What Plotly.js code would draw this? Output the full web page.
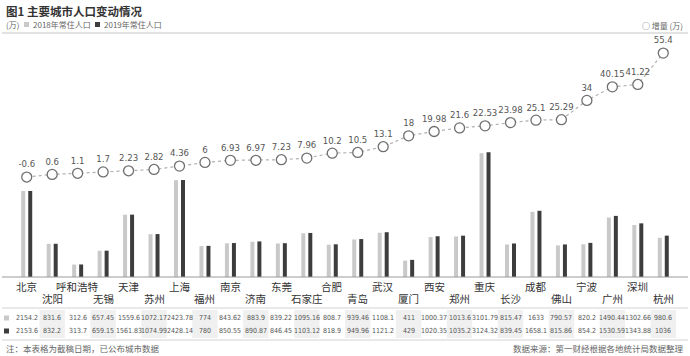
<!DOCTYPE html>
<html><head><meta charset="utf-8">
<script src="https://cdn.plot.ly/plotly-3.0.1.min.js"></script>
<style>html,body{margin:0;padding:0;background:#fff}#c{width:690px;height:356px}</style>
</head><body><div id="c"></div>
<script>
const cities = ["北京","沈阳","呼和浩特","无锡","天津","苏州","上海","福州","南京","济南","东莞","石家庄","合肥","青岛","武汉","厦门","西安","郑州","重庆","长沙","成都","佛山","宁波","广州","深圳","杭州"];
const pop2018 = [2154.2,831.6,312.6,657.45,1559.6,1072.17,2423.78,774,843.62,883.9,839.22,1095.16,808.7,939.46,1108.1,411,1000.37,1013.6,3101.79,815.47,1633,790.57,820.2,1490.44,1302.66,980.6];
const pop2019 = [2153.6,832.2,313.7,659.15,1561.83,1074.99,2428.14,780,850.55,890.87,846.45,1103.12,818.9,949.96,1121.2,429,1020.35,1035.2,3124.32,839.45,1658.1,815.86,854.2,1530.59,1343.88,1036];
const increase = [-0.6,0.6,1.1,1.7,2.23,2.82,4.36,6,6.93,6.97,7.23,7.96,10.2,10.5,13.1,18,19.98,21.6,22.53,23.98,25.1,25.29,34,40.15,41.22,55.4];
const labels2018 = ["2154.2","831.6","312.6","657.45","1559.6","1072.17","2423.78","774","843.62","883.9","839.22","1095.16","808.7","939.46","1108.1","411","1000.37","1013.6","3101.79","815.47","1633","790.57","820.2","1490.44","1302.66","980.6"];
const labels2019 = ["2153.6","832.2","313.7","659.15","1561.83","1074.99","2428.14","780","850.55","890.87","846.45","1103.12","818.9","949.96","1121.2","429","1020.35","1035.2","3124.32","839.45","1658.1","815.86","854.2","1530.59","1343.88","1036"];

const W = 690, H = 356;
const ML = 14, MR = 14, MT = 40, MB = 79;
const PW = W - ML - MR, PH = H - MT - MB;
const px = x => (x - ML) / PW;
const py = y => (H - MB - y) / PH;
const numFont = "Liberation Sans Narrow, DejaVu Sans Condensed, Arial Narrow, sans-serif";
const cjk = "Noto Sans CJK SC, sans-serif";

const traces = [
  {type:'bar', x:cities, y:pop2018, name:'2018年常住人口', marker:{color:'#c9c9c9'}, hoverinfo:'none'},
  {type:'bar', x:cities, y:pop2019, name:'2019年常住人口', marker:{color:'#3d3d3d'}, hoverinfo:'none'},
  {type:'scatter', mode:'lines+markers+text', x:cities, y:increase, yaxis:'y2', name:'增量',
   text: increase.map(String), textposition:'top center',
   textfont:{family:numFont, size:9.5, color:'#555'},
   line:{color:'#b0b0b0', width:1.2, dash:'dot'},
   marker:{size:10, color:'#ffffff', line:{color:'#707070', width:1.3}}, cliponaxis:false, hoverinfo:'none'}
];

const ann = [];
const shapes = [];
cities.forEach((c,i)=>{
  ann.push({x:c, xref:'x', yref:'paper', y:py(i%2===0?286:298), text:c, showarrow:false,
    font:{family:cjk, size:10.5, color:'#333'}, xanchor:'center', yanchor:'middle'});
  ann.push({x:c, xref:'x', yref:'paper', y:py(318), text:labels2018[i], showarrow:false,
    font:{family:numFont, size:7, color:'#555'}, xanchor:'center', yanchor:'middle'});
  ann.push({x:c, xref:'x', yref:'paper', y:py(331), text:labels2019[i], showarrow:false,
    font:{family:numFont, size:7, color:'#555'}, xanchor:'center', yanchor:'middle'});
  if (i%2===1) {
    shapes.push({type:'rect', xref:'x', yref:'paper', x0:i-0.5, x1:i+0.5, y0:py(338), y1:py(310),
      fillcolor:'#f0f0f0', line:{width:0}, layer:'below'});
  }
});
shapes.push({type:'rect', xref:'paper', yref:'paper', x0:px(4), x1:px(9), y0:py(320.5), y1:py(315.5), fillcolor:'#c9c9c9', line:{width:0}});
shapes.push({type:'rect', xref:'paper', yref:'paper', x0:px(4), x1:px(9), y0:py(333.5), y1:py(328.5), fillcolor:'#3d3d3d', line:{width:0}});
shapes.push({type:'line', xref:'paper', yref:'paper', x0:px(2), x1:px(688), y0:py(277), y1:py(277), line:{color:'#9a9a9a', width:1}});
shapes.push({type:'line', xref:'paper', yref:'paper', x0:px(2), x1:px(688), y0:py(33), y1:py(33), line:{color:'#c4c4c4', width:1}});
shapes.push({type:'line', xref:'paper', yref:'paper', x0:px(2), x1:px(688), y0:py(308), y1:py(308), line:{color:'#d2d2d2', width:1}});
shapes.push({type:'line', xref:'paper', yref:'paper', x0:px(2), x1:px(688), y0:py(340), y1:py(340), line:{color:'#d2d2d2', width:1}});
shapes.push({type:'rect', xref:'paper', yref:'paper', x0:px(24), x1:px(29), y0:py(27), y1:py(22), fillcolor:'#c9c9c9', line:{width:0}});
shapes.push({type:'rect', xref:'paper', yref:'paper', x0:px(95), x1:px(100), y0:py(27), y1:py(22), fillcolor:'#3d3d3d', line:{width:0}});

const txt = (x, y, text, anchor, font) => ann.push({xref:'paper', yref:'paper', x:px(x), y:py(y), xanchor:anchor, yanchor:'middle', showarrow:false, text:text, font:font});
txt(4, 11, '<b>图1 主要城市人口变动情况</b>', 'left', {family:cjk, size:11.5, color:'#333'});
txt(4, 24.5, '(万)', 'left', {family:cjk, size:8, color:'#666'});
txt(31, 24.5, '2018年常住人口', 'left', {family:cjk, size:8, color:'#666'});
txt(102, 24.5, '2019年常住人口', 'left', {family:cjk, size:8, color:'#666'});
txt(685, 25, '○ 增量 (万)', 'right', {family:cjk, size:8, color:'#666'});
txt(4, 348, '注：本表格为截稿日期，已公布城市数据', 'left', {family:cjk, size:8.5, color:'#666'});
txt(686, 348, '数据来源：第一财经根据各地统计局数据整理', 'right', {family:cjk, size:8.5, color:'#666'});

const layout = {
  width:W, height:H,
  margin:{l:ML, r:MR, t:MT, b:MB, pad:0},
  paper_bgcolor:'#ffffff', plot_bgcolor:'rgba(0,0,0,0)',
  showlegend:false,
  barmode:'group', bargap:0.45, bargroupgap:0.43,
  xaxis:{type:'category', range:[-0.5,25.5], showticklabels:false, showgrid:false, zeroline:false, showline:false, ticks:'', fixedrange:true},
  yaxis:{range:[0,5935], visible:false, showgrid:false, zeroline:false, fixedrange:true},
  yaxis2:{range:[-45.75,61.3], overlaying:'y', visible:false, showgrid:false, zeroline:false, fixedrange:true},
  annotations:ann, shapes:shapes
};
Plotly.newPlot('c', traces, layout, {staticPlot:true, displayModeBar:false});
</script></body></html>
